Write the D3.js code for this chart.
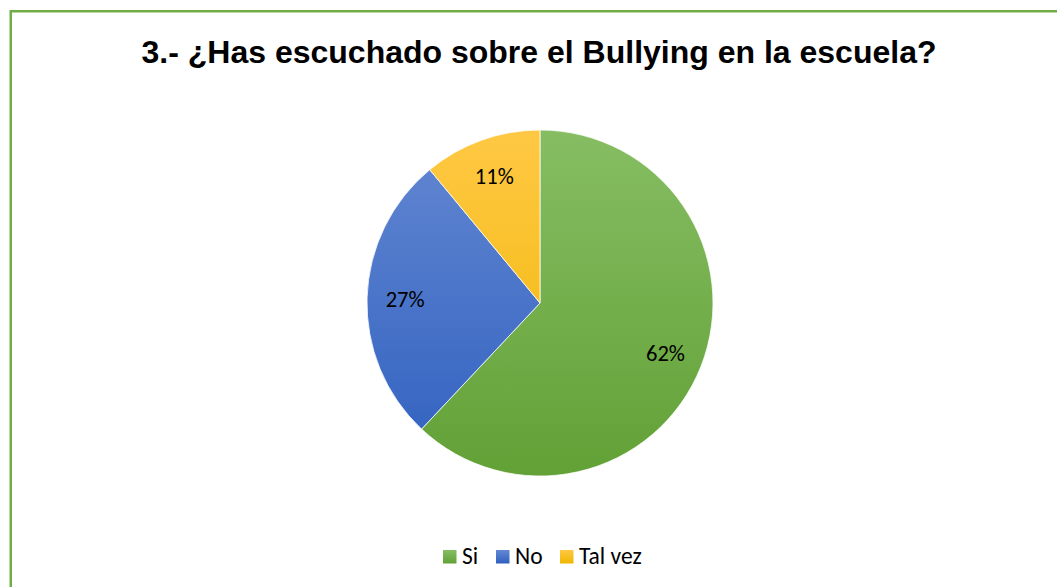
<!DOCTYPE html>
<html><head><meta charset="utf-8">
<script src="https://cdn.jsdelivr.net/npm/d3@7"></script>
<style>body{margin:0;background:#fff}svg{display:block}</style>
</head><body>
<svg id="c" width="1057" height="587"></svg>
<script>
const categories = ["Si", "No", "Tal vez"];
const values = [62, 27, 11];
const labels = ["62%", "27%", "11%"];
const colorsLight = ["#86BD63", "#6488D2", "#FFC844"];
const colorsDark = ["#62A136", "#2F60BF", "#EEB600"];

const svg = d3.select("#c");
svg.append("rect").attr("x", 10.75).attr("y", 11.25).attr("width", 1100).attr("height", 700)
  .attr("fill", "none").attr("stroke", "#70AD47").attr("stroke-width", 2.5);

svg.append("text").attr("x", 539).attr("y", 63).attr("text-anchor", "middle")
  .attr("font-family", "Liberation Sans, Arial, sans-serif").attr("font-weight", "bold")
  .attr("font-size", 32).attr("fill", "#000")
  .text("3.- ¿Has escuchado sobre el Bullying en la escuela?");

const defs = svg.append("defs");
categories.forEach((c, i) => {
  const g = defs.append("linearGradient").attr("id", "g" + i)
    .attr("gradientUnits", "userSpaceOnUse").attr("x1", 0).attr("y1", -173).attr("x2", 0).attr("y2", 173);
  g.append("stop").attr("offset", "0%").attr("stop-color", colorsLight[i]);
  g.append("stop").attr("offset", "100%").attr("stop-color", colorsDark[i]);
});

const cx = 540, cy = 303, r = 173;
const pie = d3.pie().sort(null).value(d => d)(values);
const arc = d3.arc().innerRadius(0).outerRadius(r);
const labelArc = d3.arc().innerRadius(r * 0.78).outerRadius(r * 0.78);
const gp = svg.append("g").attr("transform", `translate(${cx},${cy})`);
gp.selectAll("path").data(pie).join("path")
  .attr("d", arc).attr("fill", (d, i) => `url(#g${i})`)
  .attr("stroke", "#fff").attr("stroke-width", 0.75);
gp.selectAll("text").data(pie).join("text")
  .attr("transform", d => `translate(${labelArc.centroid(d)})`)
  .attr("text-anchor", "middle").attr("dy", "0.35em")
  .attr("font-family", "Carlito, Lato, 'Open Sans', sans-serif").attr("font-size", 22.5).attr("fill", "#000")
  .text((d, i) => labels[i]);

const legendX = [443, 496, 560];
const lg = svg.append("g");
categories.forEach((c, i) => {
  const g = defs.append("linearGradient").attr("id", "lg" + i).attr("x1", 0).attr("y1", 0).attr("x2", 0).attr("y2", 1);
  g.append("stop").attr("offset", "0%").attr("stop-color", colorsLight[i]);
  g.append("stop").attr("offset", "100%").attr("stop-color", colorsDark[i]);
  lg.append("rect").attr("x", legendX[i]).attr("y", 550).attr("width", 13.5).attr("height", 13.5)
    .attr("fill", `url(#lg${i})`);
  lg.append("text").attr("x", legendX[i] + 19).attr("y", 564)
    .attr("font-family", "Carlito, Lato, 'Open Sans', sans-serif").attr("font-size", 23.5).attr("fill", "#000")
    .text(c);
});
</script>
</body></html>
